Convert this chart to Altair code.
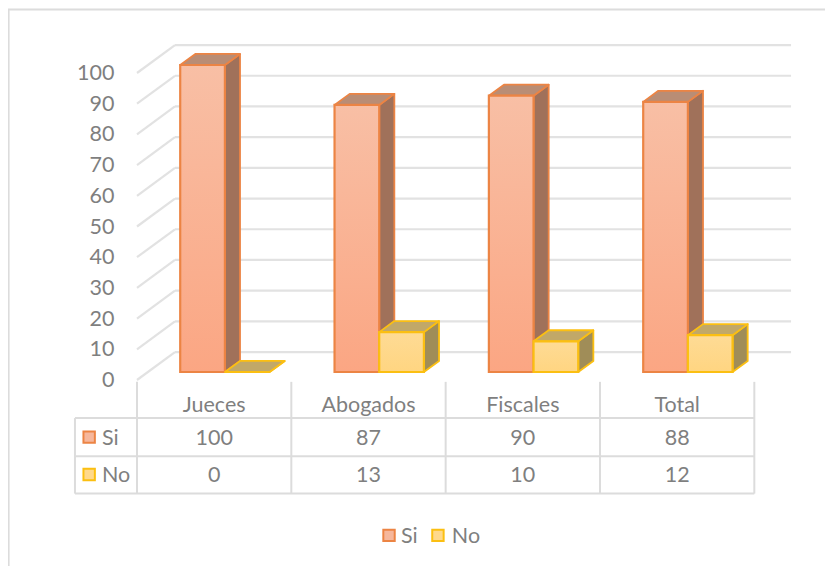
import altair as alt
import pandas as pd

categories = ["Jueces", "Abogados", "Fiscales", "Total"]
si_values = [100, 87, 90, 88]
no_values = [0, 13, 10, 12]
y_ticks = [0, 10, 20, 30, 40, 50, 60, 70, 80, 90, 100]

W, H = 817, 558
CAT_PX = 154.33      # pixels per category
VAL_PX = 3.07        # pixels per value unit
X_MIN = -129 / CAT_PX
Y_MAX = 372 / VAL_PX

GRID = "#dcdcdc"
TEXT = "#7f7f7f"
FONT = "Lato"
FS = 21.5

xs = alt.Scale(domain=[X_MIN, X_MIN + W / CAT_PX], nice=False, zero=False)
ys = alt.Scale(domain=[Y_MAX - H / VAL_PX, Y_MAX], nice=False, zero=False)
y_axis = alt.Axis(
    values=y_ticks, orient="left", offset=-106, domain=False, ticks=False, grid=False,
    labelFont=FONT, labelFontSize=FS, labelColor=TEXT, labelPadding=0,
    labelBaseline="middle", labelOffset=0.5, title=None, labelFlush=False, labelOverlap=False,
)
X = lambda f: alt.X(f, type="quantitative", scale=xs, axis=None)
Y = lambda f: alt.Y(f, type="quantitative", scale=ys, axis=y_axis)

# geometry in data units
BAR_OFF = 0.28
BAR_W = 0.2895
DX = 0.098
DY = 3.6
BASE = 2.6
WALL_DX = 0.246
WALL_DY = 9.1
GRID_END = 4.238
ROW1, ROW2, ROW3 = -12.4, -24.8, -37.0
TBL_LEFT = -0.402
N = len(categories)


def rules(df, width=1.8, color=GRID):
    return alt.Chart(df).mark_line(color=color, strokeWidth=width, strokeCap="butt").encode(
        x=X("x"), y=Y("y"), detail="id:N", order="ord:Q"
    )


def segs(items):
    rows = []
    for i, (x0, y0, x1, y1) in enumerate(items):
        rows.append(dict(id=i, ord=0, x=x0, y=y0))
        rows.append(dict(id=i, ord=1, x=x1, y=y1))
    return pd.DataFrame(rows)


# frame, walls
frame = rules(segs([(X_MIN + 0.6 / CAT_PX, -70, X_MIN + 0.6 / CAT_PX, Y_MAX - 1.6 / VAL_PX),
                    (X_MIN, Y_MAX - 1.6 / VAL_PX, X_MIN + W / CAT_PX, Y_MAX - 1.6 / VAL_PX)]), 2)
grid_items = []
for t in y_ticks:
    grid_items.append((0, t, WALL_DX, t + WALL_DY))
    grid_items.append((WALL_DX, t + WALL_DY, GRID_END, t + WALL_DY))
grid = rules(segs(grid_items), 2.2, "#e2e2e2")

# table
tbl_items = []
for k in range(N + 1):
    tbl_items.append((k, -0.6, k, ROW3))
tbl_items.append((TBL_LEFT, ROW1, TBL_LEFT, ROW3))
for r in (ROW1, ROW2, ROW3):
    tbl_items.append((TBL_LEFT, r, N, r))
table = rules(segs(tbl_items), 2)


def series_layers(values, base_off, stroke, grad_top, grad_bot, side, top):
    side_rows, top_rows, front_rows = [], [], []
    for i, v in enumerate(values):
        x0 = i + base_off
        x1 = x0 + BAR_W
        side_rows.append(dict(id=i, x=x1, y=BASE + v, y0=BASE))
        side_rows.append(dict(id=i, x=x1 + DX, y=BASE + v + DY, y0=BASE + DY))
        top_rows.append(dict(id=i, y=BASE + v, xa=x0, xb=x1))
        top_rows.append(dict(id=i, y=BASE + v + DY, xa=x0 + DX, xb=x1 + DX))
        front_rows.append(dict(id=i, xa=x0, xb=x1, y=BASE + v, y0=BASE, v=v))
    grad = alt.LinearGradient(
        gradient="linear", x1=0, x2=0, y1=0, y2=1,
        stops=[alt.GradientStop(offset=0, color=grad_top), alt.GradientStop(offset=1, color=grad_bot)],
    )
    s = alt.Chart(pd.DataFrame(side_rows)).mark_area(
        orient="vertical", color=side, stroke=stroke, strokeWidth=1.8, strokeJoin="round"
    ).encode(x=X("x"), y=Y("y"), y2="y0:Q", detail="id:N")
    t = alt.Chart(pd.DataFrame(top_rows)).mark_area(
        orient="horizontal", color=top, stroke=stroke, strokeWidth=1.8, strokeJoin="round"
    ).encode(y=Y("y"), x=X("xa"), x2="xb:Q", detail="id:N")
    fr = pd.DataFrame(front_rows)
    f = alt.Chart(fr[fr.v > 0]).mark_rect(
        color=grad, stroke=stroke, strokeWidth=2.2
    ).encode(x=X("xa"), x2="xb:Q", y=Y("y"), y2="y0:Q")
    return [s, t, f]


ORANGE = "#ec8444"
YELLOW = "#fbbf12"
si_l = series_layers(si_values, BAR_OFF, ORANGE, "#f8bfa5", "#fba683", "#a0715a", "#b98d75")
no_l = series_layers(no_values, BAR_OFF + BAR_W, YELLOW, "#fedb95", "#ffd581", "#a08d58", "#c1a868")


def text_layer(rows, align="center"):
    return alt.Chart(pd.DataFrame(rows)).mark_text(
        font=FONT, fontSize=FS, color=TEXT, align=align, baseline="middle"
    ).encode(x=X("x"), y=Y("y"), text="t:N")


cells = []
for i, c in enumerate(categories):
    cells.append(dict(x=i + 0.5, y=-8.4, t=c))
    cells.append(dict(x=i + 0.5, y=-19.2, t=str(si_values[i])))
    cells.append(dict(x=i + 0.5, y=-31.2, t=str(no_values[i])))
cell_text = text_layer(cells)

legend_rows = [
    dict(x=-0.227, y=-19.2, t="Si"), dict(x=-0.227, y=-31.2, t="No"),
    dict(x=1.71, y=-51.2, t="Si"), dict(x=2.04, y=-51.2, t="No"),
]
legend_text = text_layer(legend_rows, "left")


def swatch(rows, fill, stroke):
    return alt.Chart(pd.DataFrame(rows)).mark_square(
        size=130, fill=fill, stroke=stroke, strokeWidth=2, opacity=1
    ).encode(x=X("x"), y=Y("y"))


sw_si = swatch([dict(x=-0.31, y=-18.6), dict(x=1.633, y=-50.6)], "#f6b79c", ORANGE)
sw_no = swatch([dict(x=-0.31, y=-30.8), dict(x=1.95, y=-50.6)], "#ffd98c", YELLOW)

chart = alt.layer(
    frame, grid, table, *si_l, *no_l, cell_text, legend_text, sw_si, sw_no
).properties(
    width=W, height=H, padding=0, autosize=alt.AutoSizeParams(type="none"),
    background="white",
).configure_view(stroke=None)

chart.save("out.html", embed_options={"renderer": "svg", "actions": False})
